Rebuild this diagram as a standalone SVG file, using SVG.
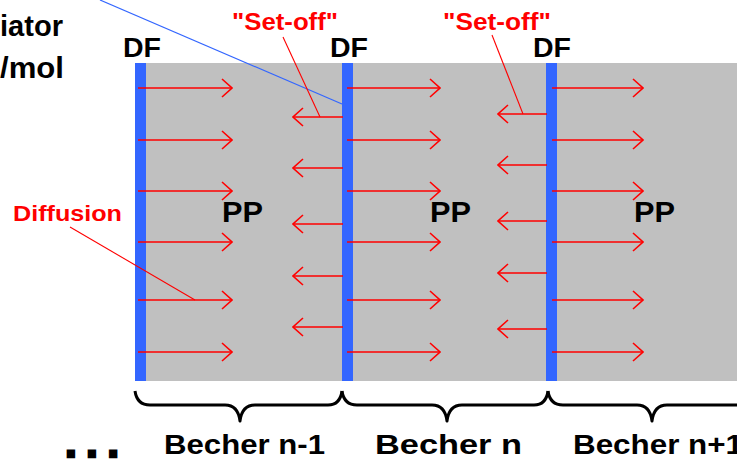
<svg xmlns="http://www.w3.org/2000/svg" width="737" height="462" viewBox="0 0 737 462">
<style>
text{font-family:"Liberation Sans",Arial,sans-serif;font-weight:bold}
.blk{fill:#000}
.red{fill:#ff0000}
.df{font-size:28px}
.pp{font-size:29px}
.bech{font-size:27px}
.bar{fill:#3366ff}
.arr{stroke:#ff0000;stroke-width:1.6;fill:none}
.lead{stroke:#ff0000;stroke-width:1.1;fill:none}
.brace{stroke:#000;stroke-width:3;fill:none;stroke-linejoin:round}
</style>
<defs>
<marker id="ah" viewBox="0 0 12 20" refX="11" refY="10" markerWidth="12" markerHeight="20" markerUnits="userSpaceOnUse" orient="auto">
<path d="M1,1 L11,10 L1,19" stroke="#ff0000" stroke-width="1.6" fill="none"/>
</marker>
</defs>
<rect x="135" y="63" width="602" height="318" fill="#c0c0c0"/>
<g id="left-labels">
<text x="0" y="36" style="font-size:29px" class="blk" textLength="63" lengthAdjust="spacingAndGlyphs">iator</text>
<text x="0" y="78" style="font-size:29px" class="blk" textLength="64" lengthAdjust="spacingAndGlyphs">/mol</text>
<line x1="100" y1="0" x2="342" y2="104" stroke="#3366ff" stroke-width="1.2"/>
<text x="13" y="221" class="red" style="font-size:22px" textLength="109" lengthAdjust="spacingAndGlyphs">Diffusion</text>
<text x="67" y="455.5" class="blk" style="font-size:28px;stroke:#000;stroke-width:4.5" textLength="50" lengthAdjust="spacing">...</text>
</g>
<g id="df1">
<rect class="bar" x="135" y="63" width="11" height="318"/>
<text class="df blk" x="123" y="57" textLength="38" lengthAdjust="spacingAndGlyphs">DF</text>
</g>
<g id="df2">
<rect class="bar" x="342" y="63" width="11" height="318"/>
<text class="df blk" x="330" y="57" textLength="38" lengthAdjust="spacingAndGlyphs">DF</text>
</g>
<g id="df3">
<rect class="bar" x="546" y="63" width="11" height="318"/>
<text class="df blk" x="533" y="57" textLength="38" lengthAdjust="spacingAndGlyphs">DF</text>
</g>
<g id="pp1"><text class="pp blk" x="222" y="222" textLength="41" lengthAdjust="spacingAndGlyphs">PP</text></g>
<g id="pp2"><text class="pp blk" x="430" y="222" textLength="41" lengthAdjust="spacingAndGlyphs">PP</text></g>
<g id="pp3"><text class="pp blk" x="634" y="222" textLength="41" lengthAdjust="spacingAndGlyphs">PP</text></g>
<g id="setoff1"><text class="red" style="font-size:23px" x="232" y="30" textLength="106" lengthAdjust="spacingAndGlyphs">"Set-off"</text></g>
<g id="setoff2"><text class="red" style="font-size:23px" x="443" y="30" textLength="108" lengthAdjust="spacingAndGlyphs">"Set-off"</text></g>
<g id="connectors">
<g marker-end="url(#ah)" class="arr">
<line x1="138" y1="88" x2="232" y2="88"/>
<line x1="138" y1="140" x2="232" y2="140"/>
<line x1="138" y1="191" x2="232" y2="191"/>
<line x1="138" y1="242" x2="232" y2="242"/>
<line x1="138" y1="300" x2="232" y2="300"/>
<line x1="138" y1="352" x2="232" y2="352"/>
<line x1="343" y1="117" x2="293" y2="117"/>
<line x1="343" y1="168" x2="293" y2="168"/>
<line x1="343" y1="224" x2="293" y2="224"/>
<line x1="343" y1="276" x2="293" y2="276"/>
<line x1="343" y1="327" x2="293" y2="327"/>
<line x1="347" y1="88" x2="440" y2="88"/>
<line x1="347" y1="140" x2="440" y2="140"/>
<line x1="347" y1="191" x2="440" y2="191"/>
<line x1="347" y1="242" x2="440" y2="242"/>
<line x1="347" y1="300" x2="440" y2="300"/>
<line x1="347" y1="352" x2="440" y2="352"/>
<line x1="547" y1="114" x2="498" y2="114"/>
<line x1="547" y1="165" x2="498" y2="165"/>
<line x1="547" y1="221" x2="498" y2="221"/>
<line x1="547" y1="273" x2="498" y2="273"/>
<line x1="547" y1="329" x2="498" y2="329"/>
<line x1="552" y1="88" x2="643" y2="88"/>
<line x1="552" y1="140" x2="643" y2="140"/>
<line x1="552" y1="191" x2="643" y2="191"/>
<line x1="552" y1="242" x2="643" y2="242"/>
<line x1="552" y1="300" x2="643" y2="300"/>
<line x1="552" y1="352" x2="643" y2="352"/>
</g>
<line class="lead" x1="283" y1="37" x2="320" y2="117"/>
<line class="lead" x1="492" y1="35" x2="523" y2="114"/>
<line class="lead" x1="70" y1="227" x2="195" y2="300"/>
</g>
<g id="becher-n-1">
<path class="brace" d="M135,391 Q137,405 150,405 L225,405 Q238,405 240,421 Q242,405 255,405 L328,405 Q340,405 342,391"/>
<text class="bech blk" x="164" y="454" textLength="161" lengthAdjust="spacingAndGlyphs">Becher n-1</text>
</g>
<g id="becher-n">
<path class="brace" d="M342,391 Q344,405 357,405 L432,405 Q445,405 447,421 Q449,405 462,405 L534,405 Q546,405 548,391"/>
<text class="bech blk" x="375" y="454" textLength="147" lengthAdjust="spacingAndGlyphs">Becher  n</text>
</g>
<g id="becher-n1">
<path class="brace" d="M548,391 Q550,405 563,405 L637,405 Q650,405 652,421 Q654,405 667,405 L742,405"/>
<text class="bech blk" x="573" y="454" textLength="170" lengthAdjust="spacingAndGlyphs">Becher n+1</text>
</g>
</svg>
